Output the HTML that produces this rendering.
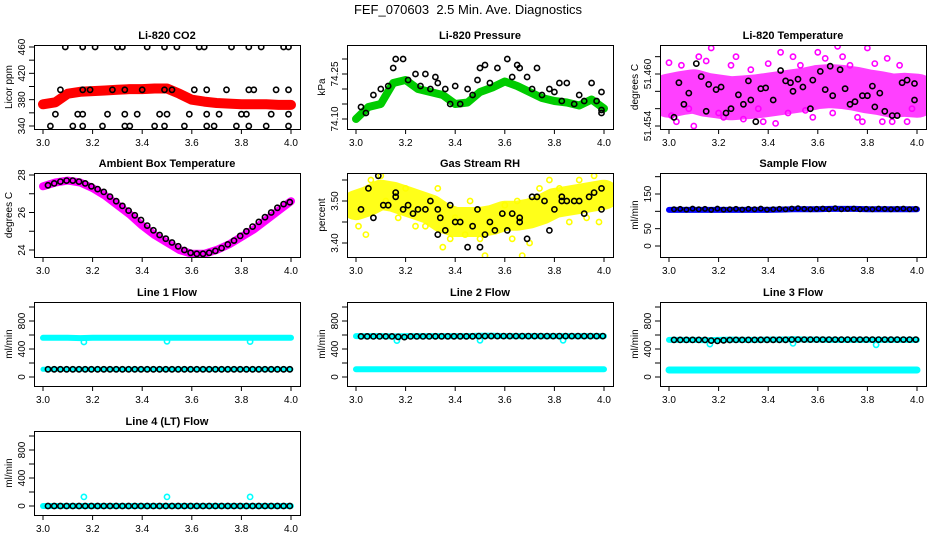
<!DOCTYPE html>
<html><head><meta charset="utf-8"><style>
body{margin:0;background:#fff}
svg{display:block;font-family:"Liberation Sans",Arial,sans-serif}
</style></head><body>
<svg id="c" width="936" height="540" viewBox="0 0 936 540">
<text x="468" y="14" text-anchor="middle" font-size="13" style="white-space:pre">FEF_070603  2.5 Min. Ave. Diagnostics</text>
</svg>
<script>
// shared x grids (hours)
const xTrend = [3.0,3.05,3.1,3.15,3.2,3.25,3.3,3.35,3.4,3.45,3.5,3.55,3.6,3.65,3.7,3.75,3.8,3.85,3.9,3.95,4.0];
const xSamp = [3.02,3.045,3.07,3.095,3.12,3.145,3.17,3.195,3.22,3.245,3.27,3.295,3.32,3.345,3.37,3.395,3.42,3.445,3.47,3.495,3.52,3.545,3.57,3.595,3.62,3.645,3.67,3.695,3.72,3.745,3.77,3.795,3.82,3.845,3.87,3.895,3.92,3.945,3.97,3.995];
const xTicks = [3.0,3.2,3.4,3.6,3.8,4.0];
const xTickLabels = ["3.0","3.2","3.4","3.6","3.8","4.0"];

// CO2
const co2Trend = [373,376,389,392,393,394,395,396,396,397,397,389,380,377,375,374,373,373,373,372,372];
const co2BlackX = [3.09,3.16,3.21,3.30,3.32,3.42,3.49,3.54,3.63,3.65,3.76,3.83,3.88,3.97,3.99, 3.07,3.16,3.19,3.28,3.33,3.40,3.49,3.52,3.61,3.66,3.74,3.83,3.85,3.94,3.99, 3.05,3.14,3.16,3.26,3.33,3.38,3.47,3.50,3.59,3.66,3.71,3.80,3.82,3.92,3.99, 3.03,3.12,3.16,3.24,3.33,3.35,3.45,3.49,3.57,3.66,3.69,3.78,3.83,3.90,3.99];
const co2BlackY = [460,460,460,460,460,460,460,460,460,460,460,460,460,460,460, 395,395,395,395,395,395,395,395,395,395,395,395,395,395,395, 358,358,358,358,358,358,358,358,358,358,358,358,358,358,358, 340,340,340,340,340,340,340,340,340,340,340,340,340,340,340];
// Pressure
const presTrend = [74.10,74.14,74.15,74.22,74.23,74.20,74.19,74.18,74.15,74.155,74.19,74.205,74.225,74.21,74.19,74.17,74.16,74.155,74.145,74.165,74.135];
const presBlackX = [3.02,3.04,3.07,3.1,3.13,3.15,3.16,3.19,3.21,3.24,3.26,3.28,3.3,3.32,3.33,3.36,3.38,3.4,3.42,3.45,3.47,3.49,3.50,3.52,3.54,3.57,3.61,3.63,3.65,3.66,3.69,3.71,3.73,3.75,3.78,3.80,3.82,3.83,3.85,3.88,3.90,3.92,3.95,3.97,3.99,3.99,3.99];
const presBlackY = [74.14,74.12,74.18,74.20,74.21,74.27,74.30,74.30,74.23,74.25,74.21,74.25,74.20,74.24,74.22,74.20,74.15,74.21,74.15,74.20,74.18,74.23,74.27,74.28,74.22,74.27,74.30,74.24,74.28,74.27,74.24,74.20,74.27,74.18,74.20,74.19,74.22,74.16,74.22,74.15,74.18,74.16,74.22,74.16,74.19,74.13,74.12];
// Li-820 temperature
const tempTrend = [51.4575,51.4578,51.4580,51.4576,51.4574,51.4572,51.4573,51.4574,51.4576,51.4578,51.4580,51.4582,51.4585,51.4586,51.4585,51.4583,51.4580,51.4578,51.4575,51.4576,51.4575];
const tempScatX = [3.0,3.01,3.03,3.05,3.08,3.1,3.12,3.14,3.15,3.17,3.2,3.22,3.25,3.27,3.3,3.33,3.36,3.38,3.4,3.43,3.45,3.48,3.5,3.53,3.55,3.58,3.6,3.63,3.66,3.68,3.7,3.73,3.76,3.78,3.8,3.83,3.86,3.88,3.9,3.93,3.96,3.98];
const tempScatY = [51.4613,51.4552,51.4545,51.4610,51.4560,51.4540,51.4620,51.4530,51.4615,51.4630,51.4555,51.4550,51.4610,51.4620,51.4548,51.4605,51.4560,51.4545,51.4612,51.4543,51.4625,51.4555,51.4620,51.4610,51.4558,51.4550,51.4625,51.4618,51.4555,51.4632,51.4620,51.4610,51.4550,51.4545,51.4630,51.4612,51.4545,51.4618,51.4545,51.4610,51.4545,51.4560];
const tempBlackX = [3.02,3.04,3.06,3.08,3.11,3.13,3.15,3.16,3.19,3.21,3.23,3.25,3.28,3.3,3.32,3.33,3.35,3.37,3.39,3.42,3.45,3.47,3.49,3.5,3.52,3.54,3.57,3.58,3.61,3.63,3.65,3.66,3.69,3.71,3.73,3.75,3.78,3.8,3.82,3.83,3.85,3.87,3.9,3.92,3.94,3.96,3.99,3.99];
const tempBlackY = [51.4550,51.4590,51.4565,51.4578,51.4612,51.4597,51.4557,51.4588,51.4582,51.4585,51.4555,51.4560,51.4576,51.4565,51.4592,51.4570,51.4545,51.4583,51.4584,51.4570,51.4604,51.4592,51.4590,51.4580,51.4594,51.4585,51.4560,51.4593,51.4603,51.4582,51.4609,51.4575,51.4605,51.4583,51.4565,51.4568,51.4575,51.4575,51.4586,51.4562,51.4578,51.4557,51.4552,51.4552,51.4590,51.4593,51.4589,51.4570];
// Ambient box temperature
const ambTrend = [27.4,27.6,27.7,27.6,27.3,26.9,26.4,25.9,25.3,24.8,24.4,24.0,23.8,23.8,24.0,24.3,24.7,25.1,25.6,26.1,26.6];
const ambBlack = [27.45,27.55,27.65,27.7,27.7,27.65,27.55,27.4,27.25,27.1,26.85,26.6,26.35,26.1,25.85,25.6,25.3,25.05,24.8,24.6,24.4,24.2,24.0,23.85,23.8,23.8,23.85,23.95,24.1,24.3,24.5,24.75,25.0,25.25,25.5,25.75,26.0,26.25,26.45,26.55];
// Gas stream RH
const rhTrend = [3.49,3.50,3.515,3.51,3.50,3.49,3.48,3.46,3.45,3.45,3.45,3.455,3.465,3.465,3.47,3.48,3.495,3.50,3.505,3.51,3.515];
const rhScatX = [3.01,3.04,3.06,3.1,3.12,3.17,3.2,3.24,3.28,3.33,3.35,3.38,3.4,3.44,3.46,3.5,3.52,3.55,3.6,3.63,3.65,3.67,3.7,3.74,3.78,3.82,3.86,3.9,3.93,3.96,3.98];
const rhScatY = [3.44,3.42,3.55,3.56,3.50,3.46,3.53,3.44,3.44,3.53,3.39,3.41,3.46,3.42,3.50,3.41,3.37,3.44,3.49,3.41,3.50,3.37,3.40,3.53,3.55,3.53,3.45,3.55,3.46,3.56,3.45];
const rhBlackX = [3.02,3.05,3.07,3.09,3.11,3.13,3.16,3.16,3.19,3.21,3.23,3.25,3.28,3.3,3.33,3.33,3.34,3.36,3.38,3.4,3.42,3.45,3.47,3.49,3.5,3.52,3.54,3.56,3.59,3.61,3.63,3.66,3.66,3.69,3.71,3.73,3.76,3.78,3.8,3.83,3.83,3.85,3.88,3.9,3.92,3.94,3.96,3.99,3.99];
const rhBlackY = [3.48,3.53,3.46,3.56,3.49,3.49,3.51,3.52,3.48,3.49,3.47,3.48,3.48,3.50,3.48,3.42,3.46,3.43,3.49,3.45,3.45,3.39,3.44,3.48,3.39,3.42,3.45,3.43,3.47,3.43,3.47,3.45,3.46,3.41,3.51,3.51,3.50,3.43,3.48,3.51,3.50,3.50,3.50,3.50,3.47,3.51,3.52,3.48,3.53];
// Sample flow
const sampBlue = [104,104,104,104,104,104,104,104,104,105,106,106,106,107,107,107,106,106,106,106,106];
const sampBlack = [106,107,105,108,106,107,104,108,105,106,107,105,107,106,108,105,106,107,106,108,109,107,106,107,108,106,109,106,107,108,106,107,106,108,107,106,107,108,106,107];
// Line flows
const l1Cyan = [560,562,560,555,560,560,562,560,560,560,560,560,560,560,560,560,560,560,560,560,560];
const l1Low = [110,110,110,112,110,110,110,110,110,110,110,110,110,110,110,110,110,110,110,110,110];
const l2Cyan = [585,585,585,580,585,585,585,585,585,585,590,590,585,585,585,585,585,585,585,585,585];
const l2Low = [110,110,110,112,110,110,110,110,110,110,110,110,110,110,110,110,110,110,110,110,110];
const l3Cyan = [530,530,530,525,530,535,530,530,535,535,540,535,535,530,530,530,530,530,530,530,530];
const l3Low = [100,100,100,100,100,100,100,100,100,100,100,100,100,100,100,100,100,100,100,100,100];
const l4Cyan = [0,0,0,0,0,0,0,0,0,0,0,0,0,0,0,0,0,0,0,0,0];
const dipX = [3.165,3.5,3.835];
const l1Dip = [500,510,505];
const l2Dip = [520,525,525];
const l3Dip = [470,480,460];
const l4Dip = [130,130,130];
const l1Black = [110,110,110,110,110,110,110,110,110,110,110,110,110,110,110,110,110,110,110,110,110,110,110,110,110,110,110,110,110,110,110,110,110,110,110,110,110,110,110,110];
const l2Black = [580,580,580,580,580,580,575,570,580,580,580,580,582,582,582,582,582,582,582,584,584,584,584,584,584,584,584,584,584,584,584,584,584,584,584,584,584,584,584,584];
const l3Black = [530,530,530,530,530,530,520,515,525,528,530,530,530,530,532,532,532,532,532,534,534,534,534,534,534,534,534,534,534,534,534,534,534,534,534,534,534,534,534,534];
const l4Black = [0,0,0,0,0,0,0,0,0,0,0,0,0,0,0,0,0,0,0,0,0,0,0,0,0,0,0,0,0,0,0,0,0,0,0,0,0,0,0,0];

const NS = "http://www.w3.org/2000/svg";
const svg = document.getElementById('c');
function mk(tag, attrs, parent){const e=document.createElementNS(NS,tag);for(const k in attrs)e.setAttribute(k,attrs[k]);(parent||svg).appendChild(e);return e;}
const W=266,H=84;

function panel(p){
  const g = mk('g',{});
  
  
  const L=p.L, T=p.T;
  const sx = v => L+9+(v-3.0)*248;
  const k = (p.p2-p.p1)/(p.v2-p.v1);
  const sy = v => T+p.p1+(v-p.v1)*k;
  const cid='clip'+p.name;
  const cp=mk('clipPath',{id:cid},g); mk('rect',{x:L,y:T,width:W,height:H},cp);
  const pg=mk('g',{'clip-path':'url(#'+cid+')'},g);
  (p.series||[]).forEach(s=>{
    if(s.type==='band'){
      const pts=s.x.map((x,i)=>sx(x).toFixed(1)+','+sy(s.y[i]).toFixed(1)).join(' ');
      const pl=mk('polyline',{points:pts,fill:'none',stroke:s.color,'stroke-width':s.w,'stroke-linejoin':'round','stroke-linecap':'round','stroke-opacity':s.op||1},pg);
      
      
    } else {
      const sg=mk('g',{fill:'none',stroke:s.color,'stroke-width':s.sw||1.6},pg);
      
      
      s.x.forEach((x,i)=>{
        const c=mk('circle',{cx:sx(x).toFixed(1),cy:sy(s.y[i]).toFixed(1),r:s.r||2.6},sg);
        
        
      });
    }
  });
  mk('rect',{x:L+0.5,y:T+0.5,width:W,height:H,fill:'none',stroke:'#000','stroke-width':1},g);
  mk('line',{x1:sx(3.0),x2:sx(4.0),y1:T+H+0.5,y2:T+H+0.5,stroke:'#000'},g);
  xTicks.forEach((v,i)=>{
    mk('line',{x1:sx(v),x2:sx(v),y1:T+H,y2:T+H+5,stroke:'#000'},g);
    const t=mk('text',{x:sx(v),y:T+H+17,'text-anchor':'middle','font-size':10},g);
    t.textContent=xTickLabels[i];
    
    
  });
  p.ticks.forEach(v=>{
    const y=sy(v); if(y<T-1||y>T+H+1)return;
    mk('line',{x1:L-5,x2:L,y1:y,y2:y,stroke:'#000'},g);
  });
  p.labels.forEach(v=>{
    const y=sy(v);
    const t=mk('text',{x:0,y:0,'text-anchor':'middle','font-size':10,transform:`translate(${L-9},${y}) rotate(-90)`},g);
    t.textContent=p.fmt?v.toFixed(p.fmt):String(v);
    
    
  });
  const yl=mk('text',{x:0,y:0,'text-anchor':'middle','font-size':10,transform:`translate(${L-22},${T+H/2}) rotate(-90)`},g);
  yl.textContent=p.ylab;
  
  
  const tt=mk('text',{x:L+W/2,y:T-6,'text-anchor':'middle','font-size':11,'font-weight':'bold'},g);
  tt.textContent=p.title;
  
  
}
const C=[34,347,660], R=[45,173,302,431];
const flowTicks=[0,200,400,600,800,1000], flowLabels=[0,400,800];
panel({name:'co2-panel',title:'Li-820 CO2',ylab:'Licor ppm',L:C[0],T:R[0],v1:460,p1:2,v2:340,p2:81,ticks:[340,360,380,400,420,440,460],labels:[340,380,420,460],
  series:[{type:'band',name:'co2-series',x:xTrend,y:co2Trend,color:'#ff0000',w:10},{name:'co2-black-points',x:co2BlackX,y:co2BlackY,color:'#000'}]});
panel({name:'pressure-panel',title:'Li-820 Pressure',ylab:'kPa',L:C[1],T:R[0],v1:74.25,p1:29,v2:74.10,p2:74,ticks:[74.10,74.15,74.20,74.25,74.30],labels:[74.10,74.25],fmt:2,
  series:[{type:'band',name:'pressure-series',x:xTrend,y:presTrend,color:'#00cc00',w:8},{name:'pressure-black-points',x:presBlackX,y:presBlackY,color:'#000'}]});
panel({name:'li820-temperature-panel',title:'Li-820 Temperature',ylab:'degrees C',L:C[2],T:R[0],v1:51.460,p1:29,v2:51.454,p2:81,ticks:[51.454,51.456,51.458,51.460,51.462],labels:[51.454,51.460],fmt:3,
  series:[{type:'band',name:'temperature-series',x:xTrend,y:tempTrend,color:'#ff00ff',w:44,op:0.75},{name:'temperature-scatter',x:tempScatX,y:tempScatY,color:'#ff00ff'},{name:'temperature-black-points',x:tempBlackX,y:tempBlackY,color:'#000'}]});
panel({name:'ambient-temperature-panel',title:'Ambient Box Temperature',ylab:'degrees C',L:C[0],T:R[1],v1:28,p1:2,v2:24,p2:77,ticks:[24,25,26,27,28],labels:[24,26,28],
  series:[{type:'band',name:'ambient-series',x:xTrend,y:ambTrend,color:'#ff00ff',w:8},{name:'ambient-black-points',x:xSamp,y:ambBlack,color:'#000'}]});
panel({name:'rh-panel',title:'Gas Stream RH',ylab:'percent',L:C[1],T:R[1],v1:3.50,p1:28,v2:3.40,p2:70,ticks:[3.40,3.45,3.50,3.55],labels:[3.40,3.50],fmt:2,
  series:[{type:'band',name:'rh-series',x:xTrend,y:rhTrend,color:'#ffff00',w:30,op:0.9},{name:'rh-scatter',x:rhScatX,y:rhScatY,color:'#ffff00'},{name:'rh-black-points',x:rhBlackX,y:rhBlackY,color:'#000'}]});
panel({name:'sample-flow-panel',title:'Sample Flow',ylab:'ml/min',L:C[2],T:R[1],v1:0,p1:73,v2:150,p2:21,ticks:[0,50,100,150,200],labels:[0,50,150],
  series:[{type:'band',name:'sample-flow-series',x:xTrend,y:sampBlue,color:'#0000ff',w:6},{name:'sample-flow-black-points',x:xSamp,y:sampBlack,color:'#000',r:2.2}]});
panel({name:'line1-flow-panel',title:'Line 1 Flow',ylab:'ml/min',L:C[0],T:R[2],v1:0,p1:75,v2:800,p2:19,ticks:flowTicks,labels:flowLabels,
  series:[{type:'band',name:'line1-cyan',x:xTrend,y:l1Cyan,color:'#00ffff',w:6},{type:'band',name:'line1-cyan-low',x:xTrend,y:l1Low,color:'#00ffff',w:5},{name:'line1-dips',x:dipX,y:l1Dip,color:'#00ffff'},{name:'line1-black-points',x:xSamp,y:l1Black,color:'#000'}]});
panel({name:'line2-flow-panel',title:'Line 2 Flow',ylab:'ml/min',L:C[1],T:R[2],v1:0,p1:75,v2:800,p2:19,ticks:flowTicks,labels:flowLabels,
  series:[{type:'band',name:'line2-cyan',x:xTrend,y:l2Cyan,color:'#00ffff',w:6},{type:'band',name:'line2-cyan-low',x:xTrend,y:l2Low,color:'#00ffff',w:6},{name:'line2-dips',x:dipX,y:l2Dip,color:'#00ffff'},{name:'line2-black-points',x:xSamp,y:l2Black,color:'#000'}]});
panel({name:'line3-flow-panel',title:'Line 3 Flow',ylab:'ml/min',L:C[2],T:R[2],v1:0,p1:75,v2:800,p2:19,ticks:flowTicks,labels:flowLabels,
  series:[{type:'band',name:'line3-cyan',x:xTrend,y:l3Cyan,color:'#00ffff',w:6},{type:'band',name:'line3-cyan-low',x:xTrend,y:l3Low,color:'#00ffff',w:7},{name:'line3-dips',x:dipX,y:l3Dip,color:'#00ffff'},{name:'line3-black-points',x:xSamp,y:l3Black,color:'#000'}]});
panel({name:'line4-flow-panel',title:'Line 4 (LT) Flow',ylab:'ml/min',L:C[0],T:R[3],v1:0,p1:75,v2:800,p2:19,ticks:flowTicks,labels:flowLabels,
  series:[{type:'band',name:'line4-cyan',x:xTrend,y:l4Cyan,color:'#00ffff',w:6},{name:'line4-outliers',x:dipX,y:l4Dip,color:'#00ffff'},{name:'line4-black-points',x:xSamp,y:l4Black,color:'#000'}]});
</script>
</body></html>
